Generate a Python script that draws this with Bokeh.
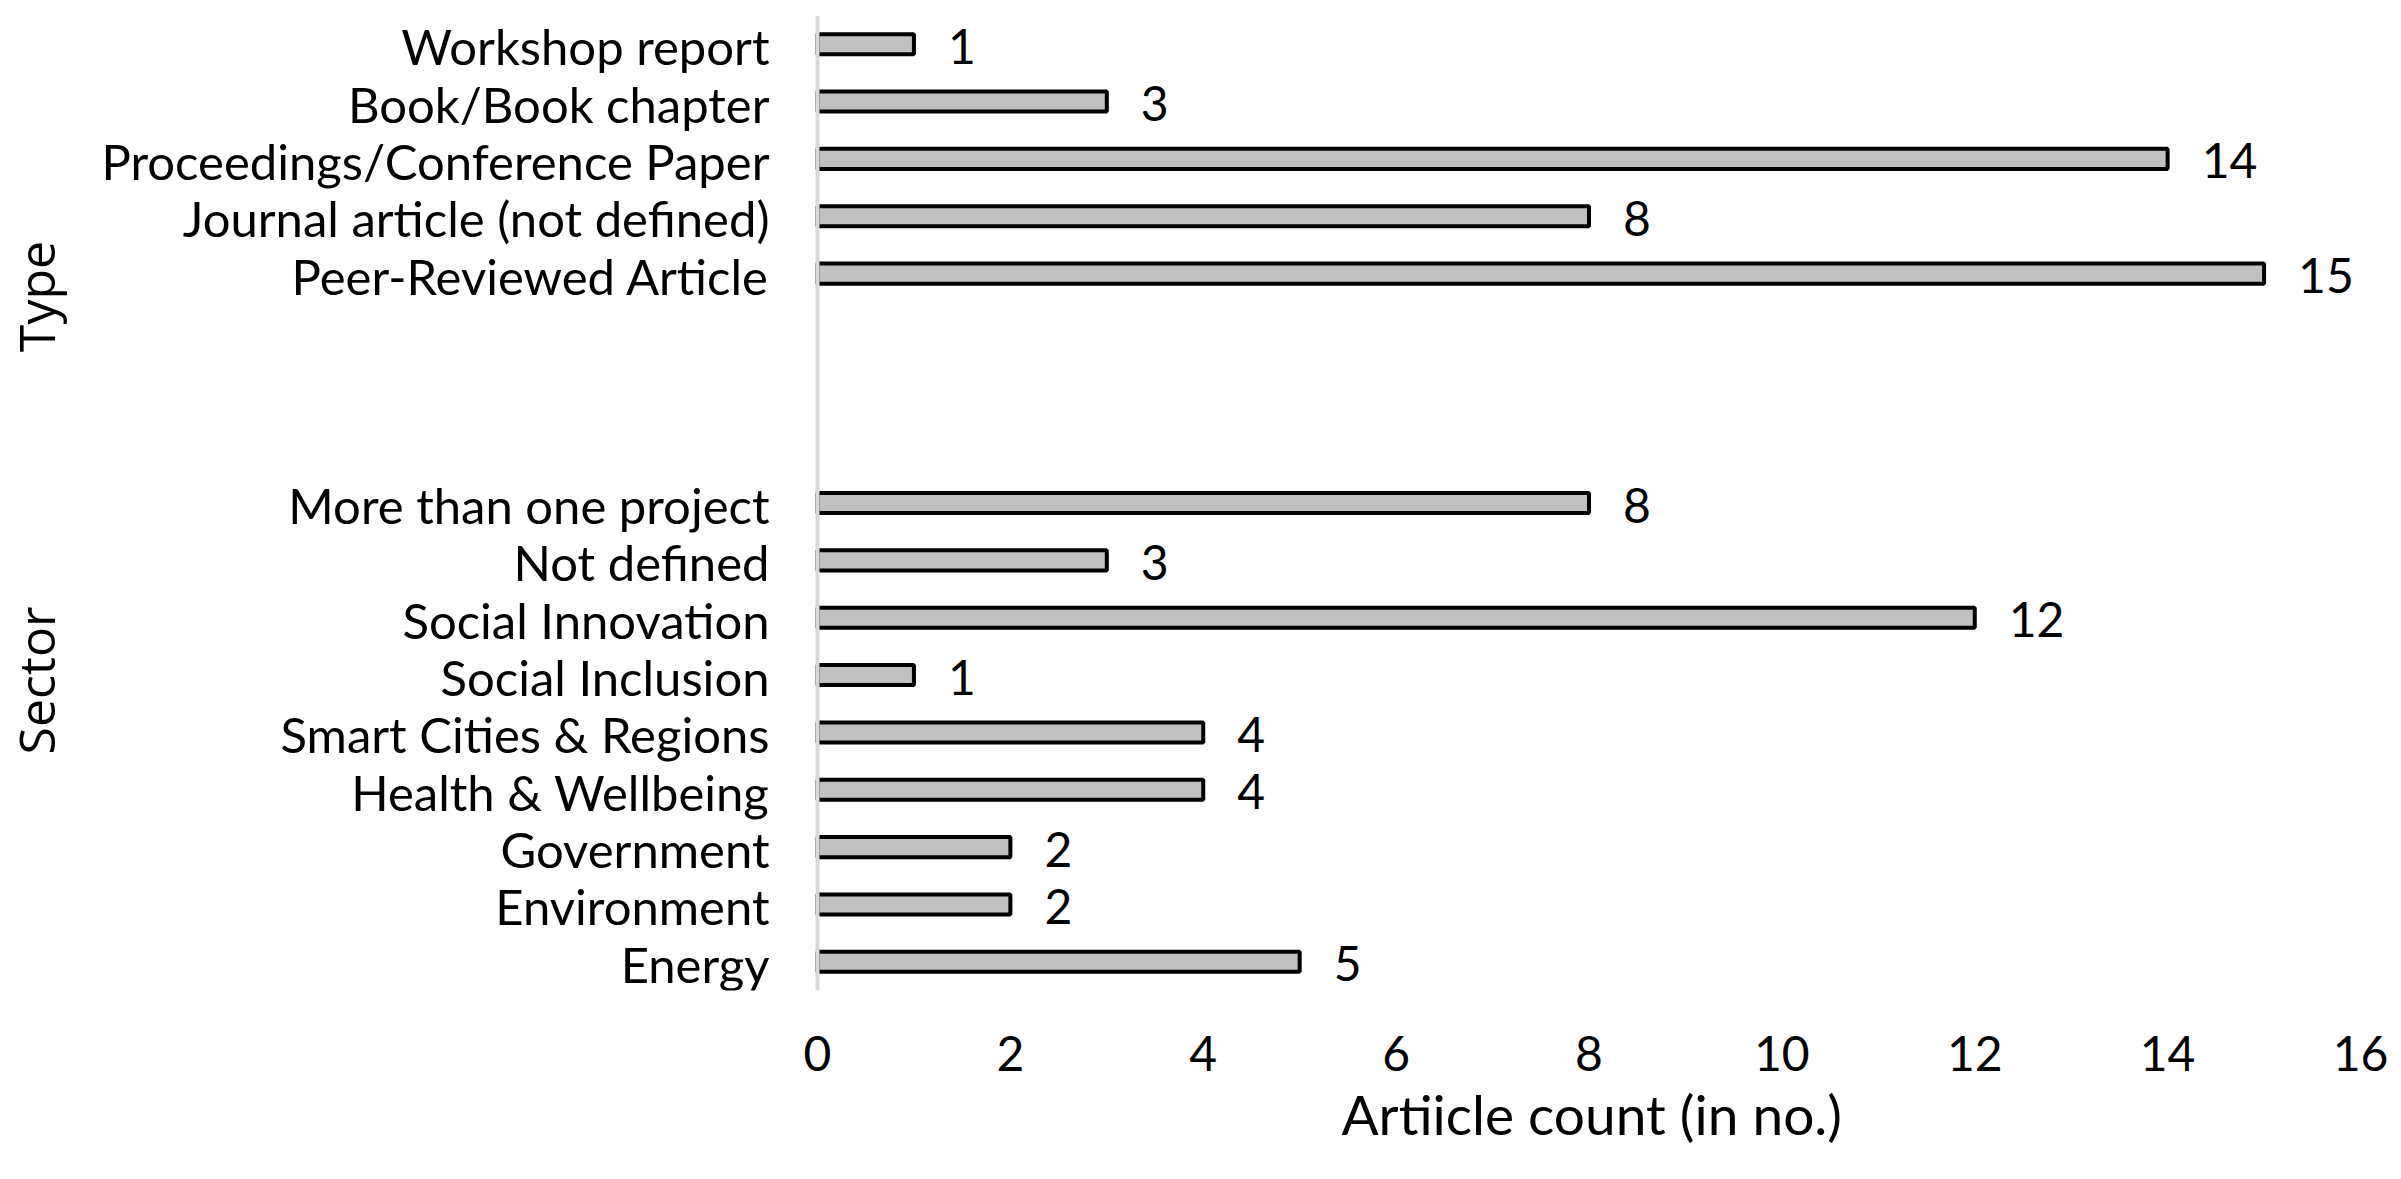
from bokeh.plotting import figure
from bokeh.models import FactorRange, Range1d, FixedTicker, Span, ColumnDataSource, Title, LinearAxis
from bokeh.core.properties import value
from bokeh.embed import file_html
from bokeh.resources import INLINE
import math

# ---- data ----
type_categories = ["Workshop report", "Book/Book chapter", "Proceedings/Conference Paper",
                   "Journal article (not defined)", "Peer-Reviewed Article"]
type_counts = [1, 3, 14, 8, 15]

sector_categories = ["More than one project", "Not defined", "Social Innovation", "Social Inclusion",
                     "Smart Cities & Regions", "Health & Wellbeing", "Government", "Environment", "Energy"]
sector_counts = [8, 3, 12, 1, 4, 4, 2, 2, 5]

spacer_categories = [" ", "  ", "   "]
x_ticks = [0, 2, 4, 6, 8, 10, 12, 14, 16]
x_title = "Artiicle count (in no.)"
group_labels = ["Type", "Sector"]

# ---- layout constants (pixels) ----
W, H = 2395, 1178
FL, FR, FT, FB = 817, 2360, 15, 990          # where the value axis / bar area sits
PXU = (FR - FL) / 16.0                       # pixels per count
SLOT = (FB - FT) / 17.0                      # pixels per category slot

# ---- build ----
top_to_bottom = type_categories + spacer_categories + sector_categories
factors = list(reversed(top_to_bottom))
cats = type_categories + sector_categories
counts = type_counts + sector_counts
src = ColumnDataSource(dict(cat=cats, n=counts, lbl=[str(c) for c in counts],
                            zero=[0] * len(cats)))

FONT = "Lato"
FS = "48px"

# frame extends to the left page edge so that category & group labels live inside it
p = figure(width=W, height=H, y_range=FactorRange(factors=factors, range_padding=0),
           x_range=Range1d(-FL / PXU, 16), output_backend="svg", toolbar_location=None,
           min_border_left=0, min_border_right=W - FR, min_border_top=FT, min_border_bottom=H - FB)
p.outline_line_color = None
p.xgrid.grid_line_color = None
p.ygrid.grid_line_color = None
p.background_fill_color = "white"
p.yaxis.visible = False

p.hbar(y="cat", right="n", left=0, height=0.35, source=src,
       fill_color="#C0C0C0", line_color="black", line_width=4)

# value labels
p.text(x="n", y="cat", text="lbl", source=src, x_offset=34, y_offset=2,
       text_font=value(FONT), text_font_size=FS, text_color="black",
       text_align="left", text_baseline="middle")

# category labels
p.text(x="zero", y="cat", text="cat", source=src, x_offset=-48, y_offset=2,
       text_font=value(FONT), text_font_size="49px", text_color="black",
       text_align="right", text_baseline="middle")

# group labels (rotated)
gsrc = ColumnDataSource(dict(t=group_labels,
                             x=[(35 - FL) / PXU] * 2,
                             y=[(FB - 296) / SLOT, (FB - 680) / SLOT]))
p.text(x="x", y="y", text="t", source=gsrc, angle=math.pi / 2,
       text_font=value("Open Sans"), text_font_size="50px", text_color="black",
       text_align="center", text_baseline="alphabetic")

p.add_layout(Span(location=0, dimension="height", line_color="#D9D9D9", line_width=4))

# x axis
p.xaxis.ticker = FixedTicker(ticks=x_ticks)
p.xaxis.axis_line_color = None
p.xaxis.major_tick_line_color = None
p.xaxis.minor_tick_line_color = None
p.xaxis.major_label_text_font = FONT
p.xaxis.major_label_text_font_size = FS
p.xaxis.major_label_text_color = "black"
p.xaxis.major_label_standoff = 39

# invisible spacer axis (no ticks) to push the title a little lower
spacer = LinearAxis(ticker=FixedTicker(ticks=[]), major_tick_out=20, major_tick_in=0,
                    axis_line_color=None, major_tick_line_color=None, minor_tick_line_color=None,
                    minor_tick_out=0)
p.add_layout(spacer, "below")

# x axis title, centred under the value axis
p.add_layout(Title(text=x_title, align="left", offset=1341, standoff=10,
                   text_font=FONT, text_font_size="55px", text_font_style="normal",
                   text_color="black"), "below")

open("out.html", "w").write(file_html(p, INLINE))
